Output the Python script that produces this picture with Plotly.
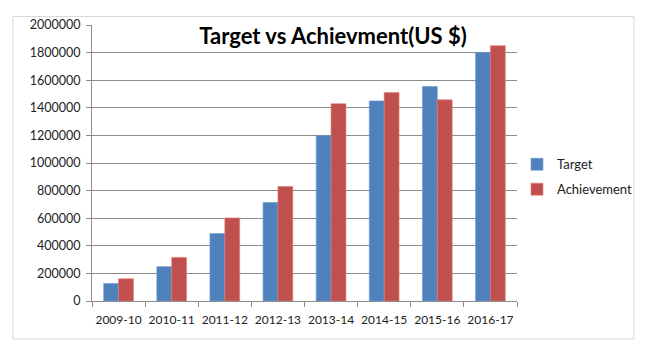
import plotly.graph_objects as go

years = ["2009-10", "2010-11", "2011-12", "2012-13", "2013-14", "2014-15", "2015-16", "2016-17"]
target = [127000, 249000, 489000, 714000, 1200000, 1450000, 1555000, 1800000]
achievement = [161000, 316000, 602000, 830000, 1430000, 1510000, 1458000, 1850000]
y_ticks = [0, 200000, 400000, 600000, 800000, 1000000, 1200000, 1400000, 1600000, 1800000, 2000000]

FONT = "Lato"

fig = go.Figure()
fig.add_trace(go.Bar(name="Target", x=years, y=target, legendgroup="t",
                     marker=dict(color="#4F81BD", line=dict(color="#6f9bd0", width=0.6))))
fig.add_trace(go.Bar(name="Achievement", x=years, y=achievement, legendgroup="a",
                     marker=dict(color="#C0504D", line=dict(color="#e07c79", width=0.6))))

fig.update_layout(
    width=650, height=350,
    margin=dict(l=92, r=131, t=25, b=48.5),
    paper_bgcolor="white", plot_bgcolor="white",
    barmode="group", bargap=0.44, bargroupgap=0,
    font=dict(family=FONT, size=13, color="#222222"),
    title=dict(text="<b>Target vs Achievment(US $)</b>", x=333 / 650, xanchor="center",
               y=1 - 36 / 350, yanchor="middle",
               font=dict(family=FONT, size=22, color="#000000")),
    legend=dict(x=1.0, y=0.45, xanchor="left", yanchor="middle",
                bgcolor="rgba(0,0,0,0)",
                font=dict(family=FONT, size=13, color="#222222"),
                itemwidth=30, tracegroupgap=5),
    showlegend=True,
)
fig.update_xaxes(type="category", automargin=False, tickangle=0,
                 showline=True, linecolor="#8c8c8c", linewidth=1,
                 ticks="outside", tickson="boundaries", ticklen=5, tickcolor="#8c8c8c",
                 ticklabelstandoff=8,
                 tickfont=dict(family=FONT, size=12, color="#222222"))
fig.update_yaxes(range=[0, 2000000], tickvals=y_ticks, ticktext=[str(v) for v in y_ticks],
                 automargin=False,
                 showline=True, linecolor="#8c8c8c", linewidth=1,
                 ticks="outside", ticklen=5, tickcolor="#8c8c8c",
                 ticklabelstandoff=3,
                 showgrid=True, gridcolor="#8c8c8c", gridwidth=1, zeroline=False,
                 tickfont=dict(family=FONT, size=12.5, color="#222222"))

# chart area frame
fig.add_shape(type="rect", xref="paper", yref="paper",
              x0=(12.5 - 92) / 427, x1=(636.5 - 92) / 427,
              y0=(301.5 - 339.5) / 276.5, y1=(301.5 - 16.5) / 276.5,
              line=dict(color="#d9d9d9", width=1), fillcolor="rgba(0,0,0,0)", layer="below")

fig.write_html("out.html")
